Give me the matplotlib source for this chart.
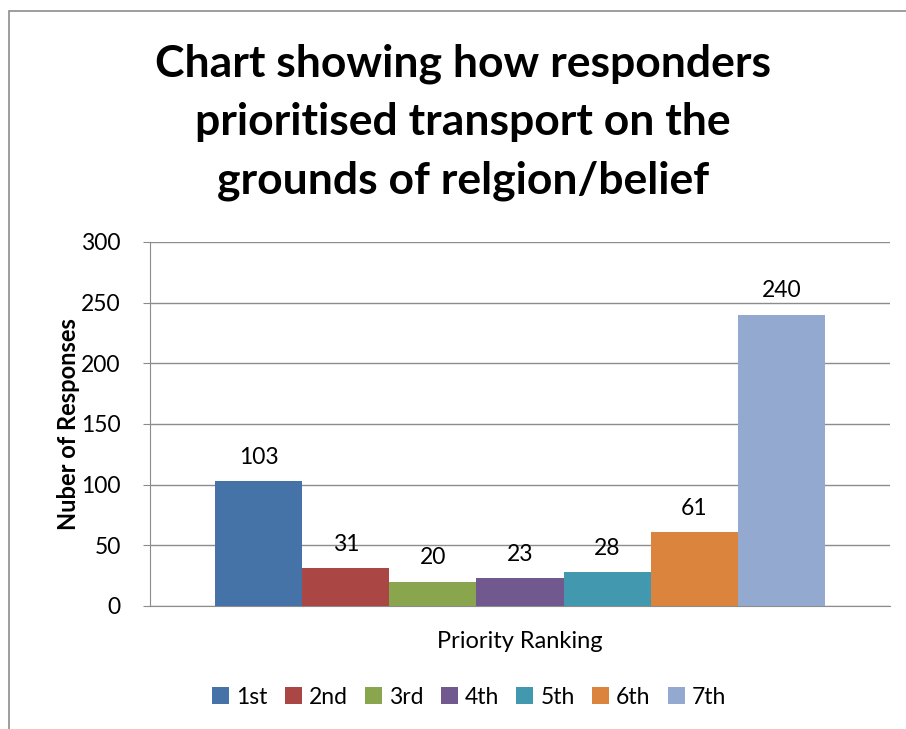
import matplotlib
matplotlib.use("Agg")
import matplotlib.pyplot as plt
from matplotlib.patches import Rectangle

# data
series = ['1st', '2nd', '3rd', '4th', '5th', '6th', '7th']
values = [103, 31, 20, 23, 28, 61, 240]
colors = ['#4572A7', '#AA4643', '#89A54E', '#71588F', '#4198AF', '#DB843D', '#93A9CF']
yticks = [0, 50, 100, 150, 200, 250, 300]

plt.rcParams['font.family'] = ['Lato', 'DejaVu Sans']

fig = plt.figure(figsize=(9.06, 7.29), dpi=100)
# outer chart border
fig.patches.append(Rectangle((9 / 906, -0.01), 1.0, 1 - 11 / 729 + 0.01,
                             transform=fig.transFigure, fill=False,
                             edgecolor='#8c8c8c', linewidth=1.2))

ax = fig.add_axes([150 / 906, 1 - 606 / 729, 740 / 906, 364 / 729])

group_w = 0.824
bw = group_w / len(series)
for i, (s, v, c) in enumerate(zip(series, values, colors)):
    x = -group_w / 2 + bw * (i + 0.5)
    ax.bar(x, v, width=bw, color=c, label=s, zorder=3)
    ax.text(x, v + 11, str(v), ha='center', va='bottom', fontsize=16.5)

ax.set_xlim(-0.5, 0.5)
ax.set_ylim(0, 300)
ax.set_yticks(yticks)
ax.set_yticklabels([str(t) for t in yticks], fontsize=16.5)
ax.set_xticks([])
ax.yaxis.grid(True, color='#8c8c8c', linewidth=1.0, zorder=0)
for side in ['top', 'right']:
    ax.spines[side].set_visible(False)
for side in ['left', 'bottom']:
    ax.spines[side].set_color('#8c8c8c')
ax.tick_params(axis='y', length=5, color='#8c8c8c', pad=16)

ax.set_ylabel('Nuber of Responses', fontsize=17, fontweight='bold', labelpad=1)
ax.set_xlabel('Priority Ranking', fontsize=17, labelpad=18)

fig.text(463 / 906, 1 - 122 / 729,
         'Chart showing how responders\nprioritised transport on the\ngrounds of relgion/belief',
         ha='center', va='center', fontsize=32, fontweight='bold', linespacing=1.55)

fig.legend(loc='center', bbox_to_anchor=(469 / 906, 1 - 697 / 729), ncol=7,
           frameon=False, fontsize=16.5, handlelength=0.75, handleheight=0.75,
           handletextpad=0.3, columnspacing=0.75)

fig.savefig('out.png', dpi=100)
